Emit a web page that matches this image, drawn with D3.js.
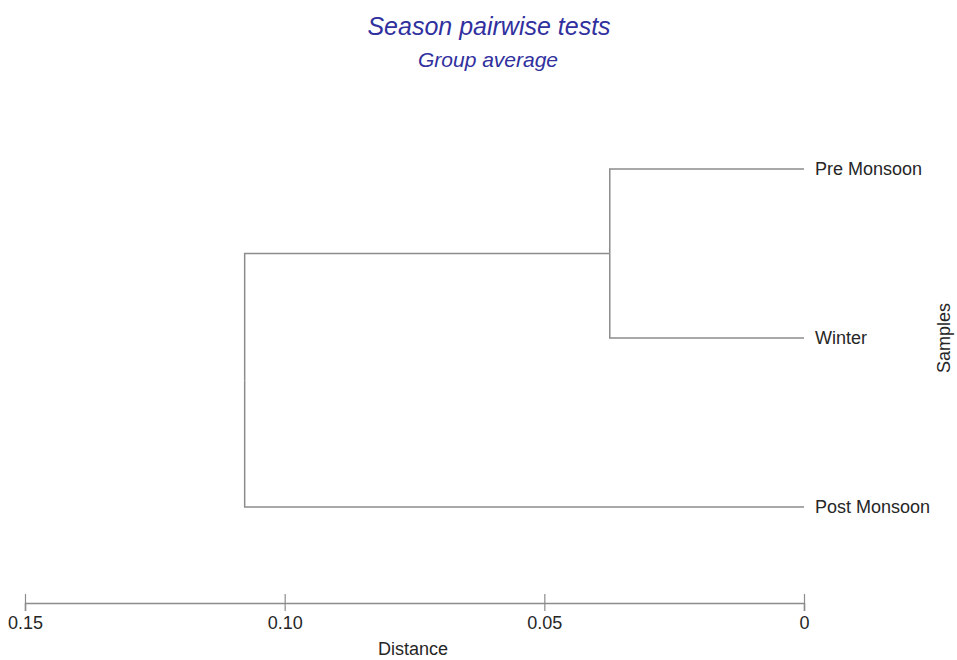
<!DOCTYPE html>
<html>
<head>
<meta charset="utf-8">
<script src="https://cdn.jsdelivr.net/npm/d3@7"></script>
<style>
  html, body { margin: 0; padding: 0; background: #fff; }
  svg { display: block; font-family: "Liberation Sans", Arial, sans-serif; }
</style>
</head>
<body>
<svg id="chart" width="957" height="660"></svg>
<script>
// Leaves of the dendrogram, top to bottom
const samples = ["Pre Monsoon", "Winter", "Post Monsoon"];
// Agglomeration steps (group-average linkage): joined nodes and join distance
const mergeLeft = ["Pre Monsoon", "C1"];
const mergeRight = ["Winter", "Post Monsoon"];
const mergeName = ["C1", "C2"];
const mergeDistance = [0.0374, 0.1077];
// Distance axis
const distanceTicks = [0.15, 0.10, 0.05, 0];
const tickLabels = ["0.15", "0.10", "0.05", "0"];

const svg = d3.select("#chart");
const lineColor = "#8c8c8c";
const textColor = "#262626";
const titleColor = "#30309e";

const x = d3.scaleLinear().domain([0.15, 0]).range([25, 804]);
const y = d3.scalePoint().domain(samples).range([169, 507]);

// Build the tree from the merge list
const nodes = {};
samples.forEach(s => { nodes[s] = { name: s, dist: 0, y: y(s), leaf: true }; });
mergeName.forEach((n, i) => {
  const a = nodes[mergeLeft[i]], b = nodes[mergeRight[i]];
  nodes[n] = { name: n, dist: mergeDistance[i], y: (a.y + b.y) / 2, children: [a, b] };
});
const root = d3.hierarchy(nodes[mergeName[mergeName.length - 1]]);

// Elbow links: vertical at the parent's distance, horizontal to the child
const g = svg.append("g");
g.selectAll("path.link")
  .data(root.links())
  .join("path")
  .attr("class", "link")
  .attr("fill", "none")
  .attr("stroke", lineColor)
  .attr("stroke-width", 1.5)
  .attr("d", d => {
    const px = x(d.source.data.dist), py = d.source.data.y;
    const cx = x(d.target.data.dist), cy = d.target.data.y;
    return `M${px},${py}V${cy}H${cx}`;
  });

// Leaf labels
g.selectAll("text.leaf")
  .data(root.leaves())
  .join("text")
  .attr("class", "leaf")
  .attr("x", 815)
  .attr("y", d => d.data.y)
  .attr("dy", "0.35em")
  .attr("fill", textColor)
  .style("font-size", "18px")
  .text(d => d.data.name);

// Distance axis
const axis = d3.axisBottom(x)
  .tickValues(distanceTicks)
  .tickFormat((d, i) => tickLabels[i])
  .tickSizeOuter(0)
  .tickSize(8);
const ax = svg.append("g").attr("transform", "translate(0,603)").call(axis);
ax.select(".domain").attr("stroke", lineColor).attr("stroke-width", 1.5);
ax.selectAll(".tick line")
  .attr("stroke", lineColor)
  .attr("stroke-width", 1.2)
  .attr("y1", -9)
  .attr("y2", 8);
ax.selectAll(".tick text")
  .attr("y", 13)
  .attr("dy", "0.71em")
  .attr("fill", textColor)
  .style("font-size", "18px")
  .style("font-family", "'Liberation Sans', Arial, sans-serif");

svg.append("text")
  .attr("x", 413).attr("y", 655)
  .attr("text-anchor", "middle")
  .attr("fill", textColor)
  .style("font-size", "18px")
  .text("Distance");

svg.append("text")
  .attr("transform", "translate(950,338) rotate(-90)")
  .attr("text-anchor", "middle")
  .attr("fill", textColor)
  .style("font-size", "18px")
  .text("Samples");

// Titles
svg.append("text")
  .attr("x", 489).attr("y", 35)
  .attr("text-anchor", "middle")
  .attr("fill", titleColor)
  .style("font-size", "25px")
  .style("font-style", "italic")
  .text("Season pairwise tests");
svg.append("text")
  .attr("x", 488).attr("y", 67)
  .attr("text-anchor", "middle")
  .attr("fill", titleColor)
  .style("font-size", "21px")
  .style("font-style", "italic")
  .text("Group average");
</script>
</body>
</html>
